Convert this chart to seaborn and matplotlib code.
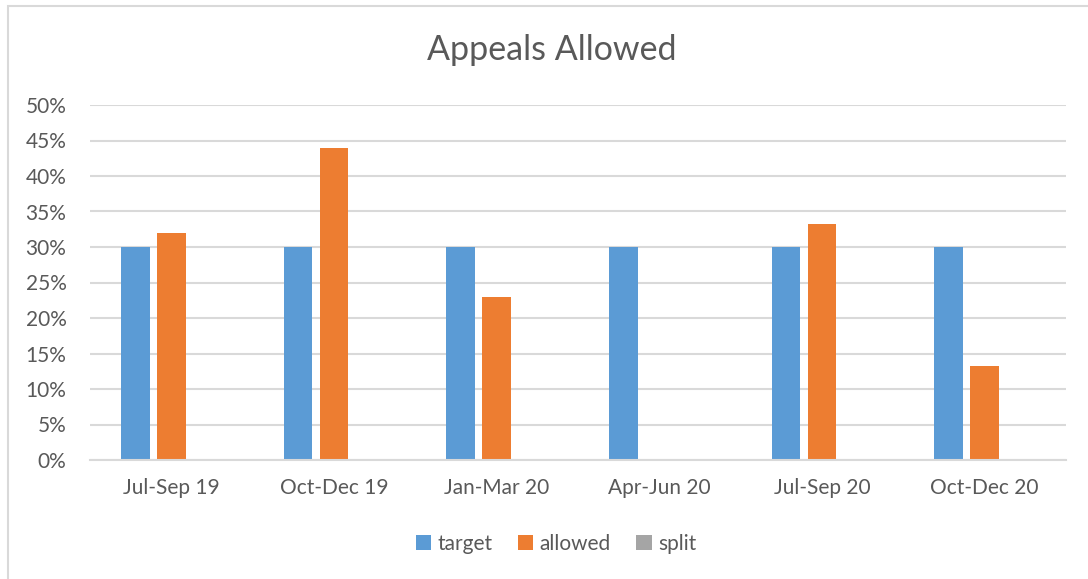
import matplotlib

matplotlib.use("Agg")
import matplotlib.pyplot as plt
import pandas as pd
import seaborn as sns
from matplotlib.patches import Patch, Rectangle
from matplotlib.ticker import MultipleLocator, PercentFormatter


QUARTERS = ["Jul-Sep 19", "Oct-Dec 19", "Jan-Mar 20", "Apr-Jun 20", "Jul-Sep 20", "Oct-Dec 20"]
TARGET = [0.30, 0.30, 0.30, 0.30, 0.30, 0.30]
ALLOWED = [0.32, 0.44, 0.23, 0.0, 0.333, 0.133]
SPLIT = [0.0, 0.0, 0.0, 0.0, 0.0, 0.0]
SERIES = ["target", "allowed", "split"]
COLORS = ["#5B9BD5", "#ED7D31", "#A5A5A5"]

TEXT_COLOR = "#595959"
GRID_COLOR = "#D9D9D9"


def build_frame() -> pd.DataFrame:
    rows = []
    for name, values in zip(SERIES, [TARGET, ALLOWED, SPLIT]):
        for quarter, value in zip(QUARTERS, values):
            rows.append({"quarter": quarter, "series": name, "rate": value})
    return pd.DataFrame(rows)


def main() -> None:
    sns.set_theme(style="white")
    plt.rcParams["font.family"] = ["Lato", "DejaVu Sans"]

    df = build_frame()

    fig = plt.figure(figsize=(10.88, 5.79), dpi=100)
    fig.patches.append(
        Rectangle((8 / 1088, -0.05), 1.2, 1 - 6 / 579 + 0.05, transform=fig.transFigure,
                  fill=False, edgecolor=GRID_COLOR, linewidth=1.5)
    )
    ax = fig.add_axes([90 / 1088, 1 - 460 / 579, (1066 - 90) / 1088, (460 - 105) / 579])

    sns.barplot(
        data=df, x="quarter", y="rate", hue="series",
        order=QUARTERS, hue_order=SERIES, palette=COLORS, saturation=1,
        width=0.664, gap=0.21, ax=ax, legend=False,
        edgecolor="none", linewidth=0,
    )

    ax.set_ylim(0, 0.5)
    ax.set_xlim(-0.5, len(QUARTERS) - 0.5)
    ax.yaxis.set_major_locator(MultipleLocator(0.05))
    ax.yaxis.set_major_formatter(PercentFormatter(1.0, decimals=0))
    ax.grid(axis="y", color=GRID_COLOR, linewidth=1.5)
    ax.set_axisbelow(True)
    for side in ["left", "right", "top"]:
        ax.spines[side].set_visible(False)
    ax.spines["bottom"].set_color(GRID_COLOR)
    ax.spines["bottom"].set_linewidth(1.5)
    ax.tick_params(axis="both", length=0, labelsize=15, labelcolor=TEXT_COLOR)
    ax.tick_params(axis="y", pad=17)
    ax.tick_params(axis="x", pad=13)
    ax.set_xlabel("")
    ax.set_ylabel("")

    fig.text(0.507, 1 - 50 / 579, "Appeals Allowed", ha="center", va="center",
             fontsize=24.5, color=TEXT_COLOR)

    handles = [Patch(facecolor=c, edgecolor="none") for c in COLORS]
    fig.legend(
        handles, SERIES, loc="center", bbox_to_anchor=(0.511, 1 - 544 / 579),
        ncol=3, frameon=False, fontsize=15, labelcolor=TEXT_COLOR,
        handlelength=0.75, handleheight=0.75, handletextpad=0.3, columnspacing=1.2,
    )

    fig.savefig("out.png", dpi=100)
    plt.close(fig)


if __name__ == "__main__":
    main()
